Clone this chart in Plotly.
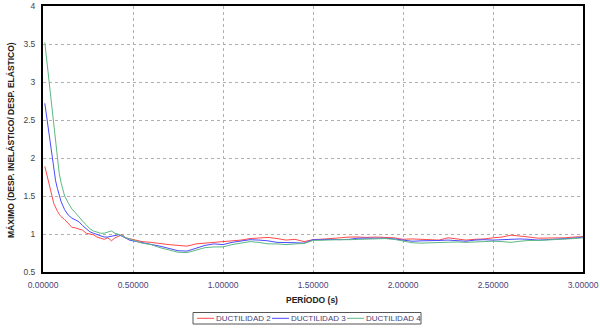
import plotly.graph_objects as go

periods = [0.01, 0.02, 0.03, 0.04, 0.05, 0.06, 0.07, 0.08, 0.09, 0.10,
           0.12, 0.14, 0.16, 0.18, 0.20, 0.22, 0.24, 0.26, 0.28, 0.30,
           0.32, 0.34, 0.36, 0.38, 0.40, 0.42, 0.44, 0.46, 0.48, 0.50,
           0.55, 0.60, 0.65, 0.70, 0.75, 0.80, 0.85, 0.90, 0.95, 1.00,
           1.05, 1.10, 1.15, 1.20, 1.25, 1.30, 1.35, 1.40, 1.45, 1.50,
           1.55, 1.60, 1.65, 1.70, 1.75, 1.80, 1.85, 1.90, 1.95, 2.00,
           2.05, 2.10, 2.15, 2.20, 2.25, 2.30, 2.35, 2.40, 2.45, 2.50,
           2.55, 2.60, 2.65, 2.70, 2.75, 2.80, 2.85, 2.90, 2.95, 3.00]

ductilidad_2 = [1.89, 1.80, 1.70, 1.60, 1.50, 1.40, 1.34, 1.30, 1.26, 1.23,
                1.19, 1.14, 1.09, 1.08, 1.06, 1.05, 1.01, 1.00, 0.99, 0.96,
                0.94, 0.93, 0.95, 0.91, 0.95, 0.97, 0.99, 0.95, 0.94, 0.92,
                0.90, 0.89, 0.87, 0.86, 0.85, 0.84, 0.87, 0.88, 0.89, 0.90,
                0.91, 0.92, 0.94, 0.95, 0.955, 0.94, 0.92, 0.93, 0.90, 0.925,
                0.93, 0.94, 0.95, 0.96, 0.96, 0.955, 0.96, 0.955, 0.95, 0.93,
                0.935, 0.93, 0.925, 0.92, 0.95, 0.93, 0.92, 0.93, 0.935, 0.95,
                0.96, 0.985, 0.975, 0.96, 0.945, 0.945, 0.945, 0.95, 0.96, 0.965]

ductilidad_3 = [2.72, 2.55, 2.40, 2.22, 2.02, 1.85, 1.70, 1.60, 1.50, 1.43,
                1.32, 1.25, 1.21, 1.19, 1.16, 1.11, 1.07, 1.03, 1.01, 0.99,
                0.97, 0.96, 0.96, 0.97, 0.98, 0.99, 0.97, 0.94, 0.92, 0.91,
                0.89, 0.87, 0.84, 0.81, 0.78, 0.775, 0.81, 0.85, 0.87, 0.86,
                0.89, 0.91, 0.925, 0.92, 0.91, 0.89, 0.89, 0.885, 0.88, 0.925,
                0.925, 0.93, 0.925, 0.93, 0.945, 0.945, 0.94, 0.945, 0.935, 0.92,
                0.905, 0.91, 0.91, 0.915, 0.92, 0.91, 0.905, 0.92, 0.925, 0.92,
                0.925, 0.935, 0.935, 0.93, 0.92, 0.925, 0.93, 0.935, 0.945, 0.96]

ductilidad_4 = [3.52, 3.30, 3.08, 2.85, 2.62, 2.40, 2.15, 1.96, 1.80, 1.68,
                1.50, 1.41, 1.33, 1.28, 1.22, 1.17, 1.12, 1.07, 1.04, 1.02,
                1.01, 1.01, 1.02, 1.04, 1.01, 1.00, 0.98, 0.95, 0.93, 0.92,
                0.88, 0.86, 0.82, 0.79, 0.76, 0.755, 0.79, 0.82, 0.83, 0.83,
                0.86, 0.88, 0.90, 0.89, 0.87, 0.87, 0.86, 0.87, 0.875, 0.915,
                0.92, 0.92, 0.925, 0.925, 0.93, 0.935, 0.935, 0.94, 0.93, 0.905,
                0.885, 0.88, 0.885, 0.89, 0.89, 0.895, 0.89, 0.895, 0.905, 0.905,
                0.90, 0.89, 0.905, 0.915, 0.915, 0.92, 0.925, 0.93, 0.94, 0.95]

series_names = ["DUCTILIDAD 2", "DUCTILIDAD 3", "DUCTILIDAD 4"]
series_colors = ["#ff4a4a", "#4a4aff", "#5cb884"]

x_ticks = [0, 0.5, 1.0, 1.5, 2.0, 2.5, 3.0]
x_tick_labels = ["0.00000", "0.50000", "1.00000", "1.50000", "2.00000", "2.50000", "3.00000"]
y_ticks = [0.5, 1, 1.5, 2, 2.5, 3, 3.5, 4]
y_tick_labels = ["0.5", "1", "1.5", "2", "2.5", "3", "3.5", "4"]

W, H = 600, 331
L, R, T, B = 43, 17, 6, 59
PW, PH = W - L - R, H - T - B


def px_x(p):
    return (p - L) / PW


def px_y(p):
    return (H - B - p) / PH


fig = go.Figure()
for name, vals, col in zip(series_names, [ductilidad_2, ductilidad_3, ductilidad_4], series_colors):
    fig.add_trace(go.Scatter(x=periods, y=vals, mode="lines", name=name,
                             line=dict(color=col, width=1), showlegend=False))

font_family = "Liberation Sans, Arial, sans-serif"

shapes = []
annotations = []
# legend box
shapes.append(dict(type="rect", xref="paper", yref="paper",
                   x0=px_x(193), x1=px_x(421), y0=px_y(312.5), y1=px_y(324),
                   line=dict(color="#555", width=1), layer="below"))
leg_line_x = [197, 272, 347]
leg_y = 318.3
for lx, name, col in zip(leg_line_x, series_names, series_colors):
    shapes.append(dict(type="line", xref="paper", yref="paper",
                       x0=px_x(lx), x1=px_x(lx + 17), y0=px_y(leg_y), y1=px_y(leg_y),
                       line=dict(color=col, width=1), layer="above"))
    annotations.append(dict(text=name, xref="paper", yref="paper",
                            x=px_x(lx + 17), y=px_y(leg_y), xanchor="left", yanchor="middle",
                            showarrow=False, font=dict(size=8, color="#4a3f7a", family=font_family)))

annotations.append(dict(text="<b>PERÍODO (s)</b>", xref="paper", yref="paper",
                        x=px_x(312), y=px_y(300), xanchor="center", yanchor="middle",
                        showarrow=False, font=dict(size=8.5, color="#222", family=font_family)))
annotations.append(dict(text="<b>MÁXIMO (DESP. INELÁSTICO/ DESP. ELÁSTICO)</b>", xref="paper", yref="paper",
                        x=px_x(11), y=px_y(140), xanchor="center", yanchor="middle", textangle=-90,
                        showarrow=False, font=dict(size=8.5, color="#222", family=font_family)))

fig.update_layout(
    width=W, height=H,
    margin=dict(l=L, r=R, t=T, b=B, autoexpand=False),
    paper_bgcolor="white", plot_bgcolor="white",
    font=dict(family=font_family, size=9, color="#333"),
    showlegend=False,
    shapes=shapes, annotations=annotations,
    xaxis=dict(range=[0, 3], tickvals=x_ticks, ticktext=x_tick_labels,
               showgrid=True, gridcolor="#b0b0b0", griddash="dot", gridwidth=1,
               showline=True, linecolor="black", linewidth=2, mirror=True,
               zeroline=False, ticks="", ticklabelstandoff=4,
               tickfont=dict(size=8.5, color="#4a3f7a")),
    yaxis=dict(range=[0.5, 4], tickvals=y_ticks, ticktext=y_tick_labels,
               showgrid=True, gridcolor="#b0b0b0", griddash="dot", gridwidth=1,
               showline=True, linecolor="black", linewidth=2, mirror=True,
               zeroline=False, ticks="", ticklabelstandoff=4,
               tickfont=dict(size=8.5, color="#444")),
)

fig.write_html("out.html")
